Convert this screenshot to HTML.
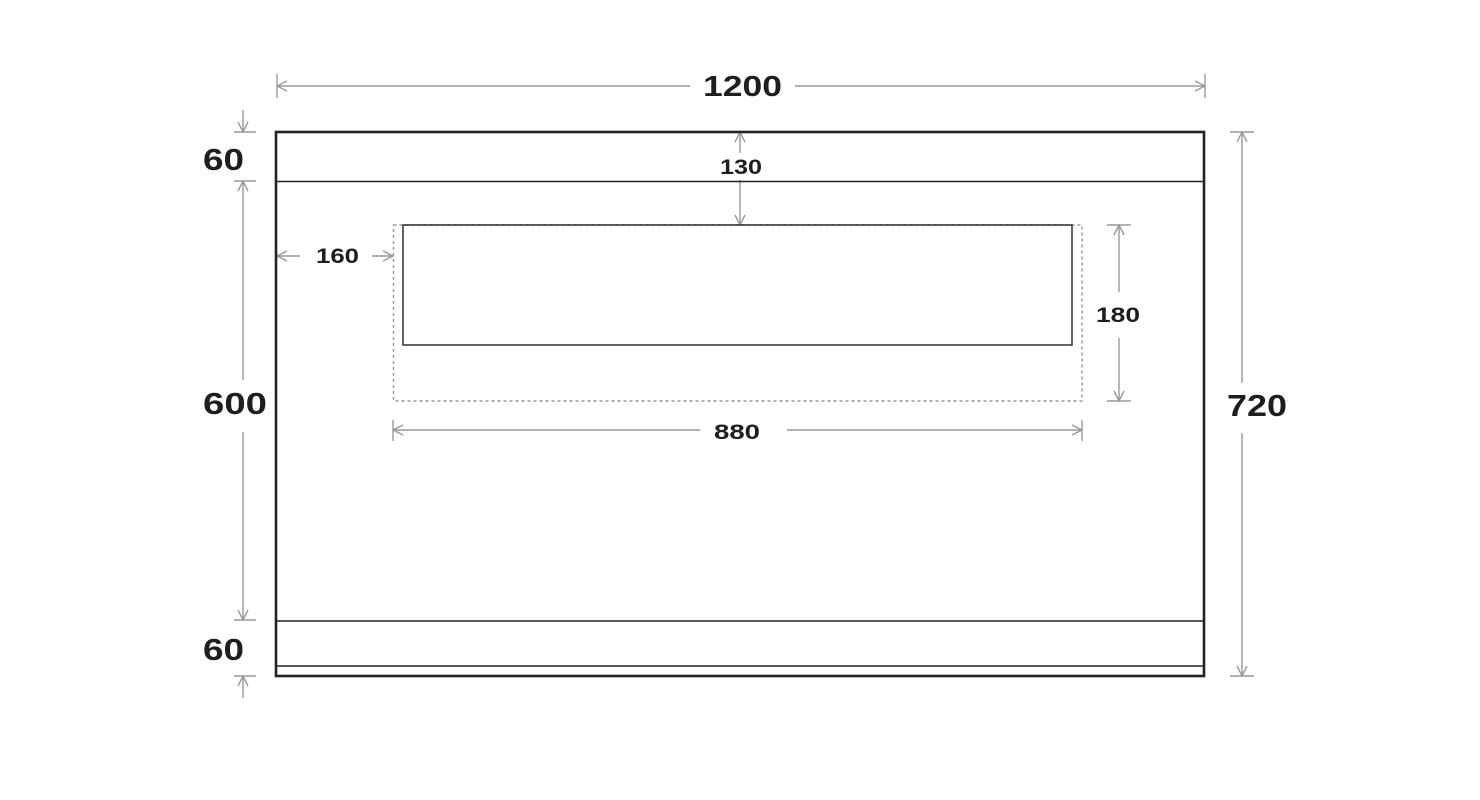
<!DOCTYPE html>
<html><head><style>body{margin:0;background:#fff}svg{display:block}</style></head><body>
<svg width="1480" height="800" xmlns="http://www.w3.org/2000/svg">
<defs>
<marker id="a" viewBox="0 0 12 12" refX="11" refY="6" markerWidth="12" markerHeight="12" markerUnits="userSpaceOnUse" orient="auto-start-reverse"><path d="M1 1 L11 6 L1 11" fill="none" stroke="#999" stroke-width="1.4"/></marker>
</defs>
<g stroke="#999" stroke-width="1.4" fill="none">
<line x1="277" y1="74" x2="277" y2="98"/><line x1="1205" y1="74" x2="1205" y2="98"/>
<line x1="277" y1="86" x2="690" y2="86" marker-start="url(#a)"/>
<line x1="795" y1="86" x2="1205" y2="86" marker-end="url(#a)"/>
<line x1="234" y1="132" x2="256" y2="132"/><line x1="243" y1="110" x2="243" y2="132" marker-end="url(#a)"/>
<line x1="234" y1="181" x2="256" y2="181"/><line x1="234" y1="620" x2="256" y2="620"/>
<line x1="243" y1="181" x2="243" y2="380" marker-start="url(#a)"/>
<line x1="243" y1="432" x2="243" y2="620" marker-end="url(#a)"/>
<line x1="234" y1="676" x2="256" y2="676"/><line x1="243" y1="698" x2="243" y2="676" marker-end="url(#a)"/>
<line x1="1230" y1="132" x2="1254" y2="132"/><line x1="1230" y1="676" x2="1254" y2="676"/>
<line x1="1242" y1="132" x2="1242" y2="383" marker-start="url(#a)"/>
<line x1="1242" y1="433" x2="1242" y2="676" marker-end="url(#a)"/>
<line x1="740" y1="132" x2="740" y2="153" marker-start="url(#a)"/>
<line x1="740" y1="180" x2="740" y2="225" marker-end="url(#a)"/>
<line x1="277" y1="256" x2="300" y2="256" marker-start="url(#a)"/>
<line x1="372" y1="256" x2="393" y2="256" marker-end="url(#a)"/>
<line x1="1107" y1="225" x2="1131" y2="225"/><line x1="1107" y1="401" x2="1131" y2="401"/>
<line x1="1119" y1="225" x2="1119" y2="292" marker-start="url(#a)"/>
<line x1="1119" y1="338" x2="1119" y2="401" marker-end="url(#a)"/>
<line x1="393" y1="420" x2="393" y2="441"/><line x1="1082" y1="420" x2="1082" y2="441"/>
<line x1="393" y1="430" x2="700" y2="430" marker-start="url(#a)"/>
<line x1="787" y1="430" x2="1082" y2="430" marker-end="url(#a)"/>
<rect x="393.5" y="225" width="688.5" height="176" stroke-dasharray="3 3"/>
</g>
<g fill="none" stroke="#222">
<rect x="276" y="132" width="928" height="544" stroke-width="2.6"/>
<line x1="276" y1="181.5" x2="1204" y2="181.5" stroke-width="1.4"/>
<line x1="276" y1="621" x2="1204" y2="621" stroke-width="1.4"/>
<line x1="276" y1="666" x2="1204" y2="666" stroke-width="1.4"/>
<rect x="403" y="225" width="669" height="120" stroke-width="1.4"/>
</g>
<g font-family="Liberation Sans, sans-serif" font-weight="bold" fill="#1e1e1e" lengthAdjust="spacingAndGlyphs">
<text x="703" y="96" font-size="29" textLength="79" lengthAdjust="spacingAndGlyphs">1200</text>
<text x="203" y="170" font-size="31" textLength="41" lengthAdjust="spacingAndGlyphs">60</text>
<text x="203" y="414" font-size="31" textLength="64" lengthAdjust="spacingAndGlyphs">600</text>
<text x="203" y="660" font-size="31" textLength="41" lengthAdjust="spacingAndGlyphs">60</text>
<text x="1227" y="416" font-size="31" textLength="60" lengthAdjust="spacingAndGlyphs">720</text>
<text x="720" y="174" font-size="21" textLength="42" lengthAdjust="spacingAndGlyphs">130</text>
<text x="316" y="263" font-size="21" textLength="43" lengthAdjust="spacingAndGlyphs">160</text>
<text x="1096" y="322" font-size="21" textLength="44" lengthAdjust="spacingAndGlyphs">180</text>
<text x="714" y="439" font-size="21" textLength="46" lengthAdjust="spacingAndGlyphs">880</text>
</g>
</svg>
</body></html>
